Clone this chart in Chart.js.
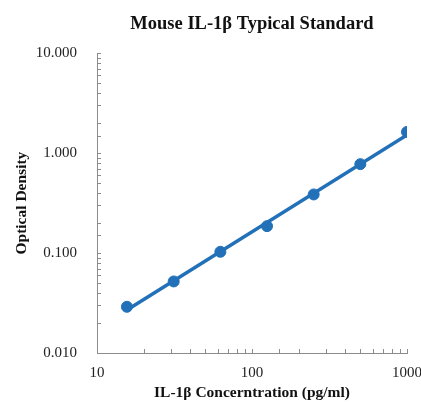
<!DOCTYPE html>
<html><head><meta charset="utf-8">
<script src="https://cdn.jsdelivr.net/npm/chart.js@4.4.0/dist/chart.umd.min.js"></script>
<style>html,body{margin:0;padding:0;background:#fff}#w{width:421px;height:405px}</style>
</head><body><div id="w"><canvas id="c"></canvas></div>
<script>
const concentrations = [15.6, 31.25, 62.5, 125, 250, 500, 1000];
const opticalDensity = [0.029, 0.052, 0.103, 0.186, 0.386, 0.776, 1.63];
const yTickLabels = [0.01, 0.1, 1, 10];
const xTickLabels = [10, 100, 1000];

// power-law trend line fitted from the data (log-log least squares)
const lx = concentrations.map(Math.log10), ly = opticalDensity.map(Math.log10);
const mx = lx.reduce((a,b)=>a+b,0)/lx.length, my = ly.reduce((a,b)=>a+b,0)/ly.length;
let sxy=0,sxx=0; lx.forEach((v,i)=>{sxy+=(v-mx)*(ly[i]-my);sxx+=(v-mx)*(v-mx);});
const slope=sxy/sxx, icpt=my-slope*mx;
const fitX=[concentrations[0], concentrations[concentrations.length-1]];
const fitPts=fitX.map(x=>({x, y:Math.pow(10, icpt+slope*Math.log10(x))}));

const BLUE='#2170b8';
const serif='"Liberation Serif","Times New Roman",serif';

const innerTicks={id:'innerTicks',afterDatasetsDraw(chart){
  const ctx=chart.ctx, a=chart.chartArea;
  ctx.save(); ctx.strokeStyle='#8c8c8c'; ctx.lineWidth=1;
  const xs=chart.scales.x, ys=chart.scales.y;
  xs.ticks.forEach(t=>{const p=Math.round(xs.getPixelForValue(t.value))+0.5;
    ctx.beginPath();ctx.moveTo(p,a.bottom);ctx.lineTo(p,a.bottom-4);ctx.stroke();});
  ys.ticks.forEach(t=>{const p=Math.round(ys.getPixelForValue(t.value))+0.5;
    ctx.beginPath();ctx.moveTo(a.left,p);ctx.lineTo(a.left+4,p);ctx.stroke();});
  ctx.restore();
}};

new Chart(document.getElementById('c'),{
  type:'scatter',
  data:{datasets:[
    {label:'OD',data:concentrations.map((x,i)=>({x,y:opticalDensity[i]})),
     backgroundColor:BLUE,borderColor:BLUE,pointRadius:5.5,pointHoverRadius:5.5,order:1},
    {label:'fit',type:'line',data:fitPts,borderColor:BLUE,borderWidth:3.5,pointRadius:0,fill:false,order:2}
  ]},
  options:{
    responsive:true,maintainAspectRatio:false,animation:false,
    layout:{padding:{left:0,right:14,top:0,bottom:0}},
    plugins:{legend:{display:false},tooltip:{enabled:false},
      title:{display:true,fullSize:false,text:'Mouse IL-1β Typical Standard',color:'#111',
        font:{family:serif,size:18.5,weight:'bold',lineHeight:1.2},padding:{top:13,bottom:18}}},
    scales:{
      x:{type:'logarithmic',min:10,max:1000,
        afterFit:(s)=>{s.height=52;s.paddingRight=0;s.paddingLeft=0;},
        grid:{display:false,drawTicks:false},border:{display:true,color:'#8c8c8c'},
        ticks:{autoSkip:false,maxRotation:0,color:'#222',font:{family:serif,size:15,lineHeight:1.2},padding:11,
          callback:(v)=>xTickLabels.includes(v)?String(v):''},
        title:{display:true,text:'IL-1β Concerntration (pg/ml)',color:'#111',
          font:{family:serif,size:15.5,weight:'bold',lineHeight:1.2},padding:{top:0,bottom:3}}},
      y:{type:'logarithmic',min:0.01,max:10,
        afterFit:(s)=>{s.width=97;},
        grid:{display:false,drawTicks:false},border:{display:true,color:'#8c8c8c'},
        ticks:{autoSkip:false,color:'#222',font:{family:serif,size:15},padding:20,
          callback:(v)=>yTickLabels.some(t=>Math.abs(t-v)<1e-9)?Number(v).toFixed(3):''},
        title:{display:true,text:'Optical Density',color:'#111',
          font:{family:serif,size:15.5,weight:'bold',lineHeight:1.2},padding:{top:13,bottom:0}}}
    }
  },
  plugins:[innerTicks]
});
</script></body></html>
